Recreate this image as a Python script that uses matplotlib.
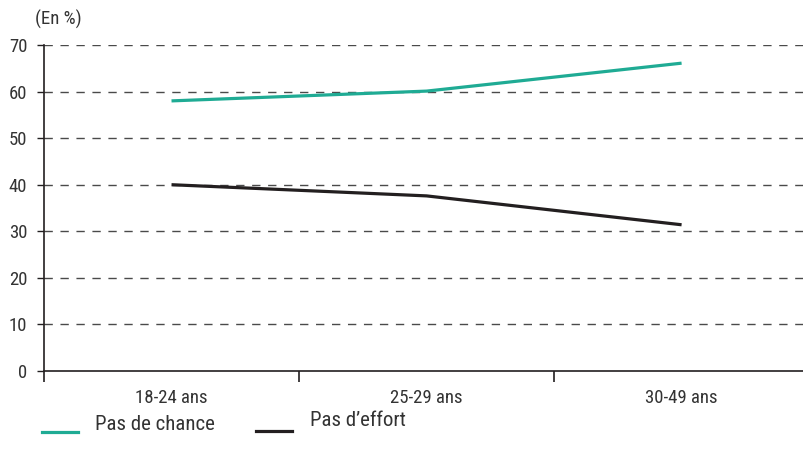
import matplotlib
matplotlib.use("Agg")
import matplotlib.pyplot as plt
from matplotlib.lines import Line2D

categories = ["18-24 ans", "25-29 ans", "30-49 ans"]
pas_de_chance = [58.0, 60.1, 66.1]
pas_d_effort = [40.0, 37.6, 31.4]
yticks = [0, 10, 20, 30, 40, 50, 60, 70]
series_labels = ["Pas de chance", "Pas d\u2019effort"]

plt.rcParams["font.family"] = ["Roboto Condensed", "DejaVu Sans"]

teal = "#1fab94"
dark = "#231f20"
text_color = "#333333"
W, H = 804, 463

fig = plt.figure(figsize=(W / 100, H / 100), dpi=100)
ax = fig.add_axes([44 / W, 1 - 371 / H, 760 / W, (371 - 45) / H])

x = [0.5, 1.5, 2.5]
ax.plot(x, pas_de_chance, color=teal, lw=2.3, solid_capstyle="butt")
ax.plot(x, pas_d_effort, color=dark, lw=2.3, solid_capstyle="butt")

ax.set_xlim(0, 2.98)
ax.set_ylim(0, 70)
ax.set_yticks(yticks)
ax.set_yticklabels([str(v) for v in yticks], fontsize=13.5, color=text_color)
for v in yticks[1:]:
    ax.axhline(v, color="#4a4a4a", lw=1.0, ls=(0, (6, 5.5)), zorder=0)

ax.set_xticks([0, 1, 2])
ax.set_xticklabels([])
ax.set_xticks(x, minor=True)
ax.set_xticklabels(categories, minor=True, fontsize=13.5, color=text_color)
ax.tick_params(axis="x", which="major", length=8, width=1.2, color=dark, direction="out")
ax.tick_params(axis="x", which="minor", length=0, pad=13)
ax.tick_params(axis="y", length=5, width=1.0, color=dark, pad=7)

for s in ["top", "right"]:
    ax.spines[s].set_visible(False)
for s in ["left", "bottom"]:
    ax.spines[s].set_color(dark)
    ax.spines[s].set_linewidth(1.2)

fig.text(35 / W, 1 - 19 / H, "(En %)", fontsize=13.5, color=text_color, va="center", ha="left")

# legend drawn by hand at the bottom
legend_items = [(series_labels[0], teal, 42, 432, 95, 424),
                (series_labels[1], dark, 256, 431, 310, 420)]
for label, color, x0, yl, xt, yt in legend_items:
    fig.add_artist(Line2D([x0 / W, (x0 + 36) / W], [1 - yl / H, 1 - yl / H],
                          color=color, lw=2.3, transform=fig.transFigure))
    fig.text(xt / W, 1 - yt / H, label, fontsize=15, color=text_color, va="center", ha="left")

fig.savefig("out.png", dpi=100)
